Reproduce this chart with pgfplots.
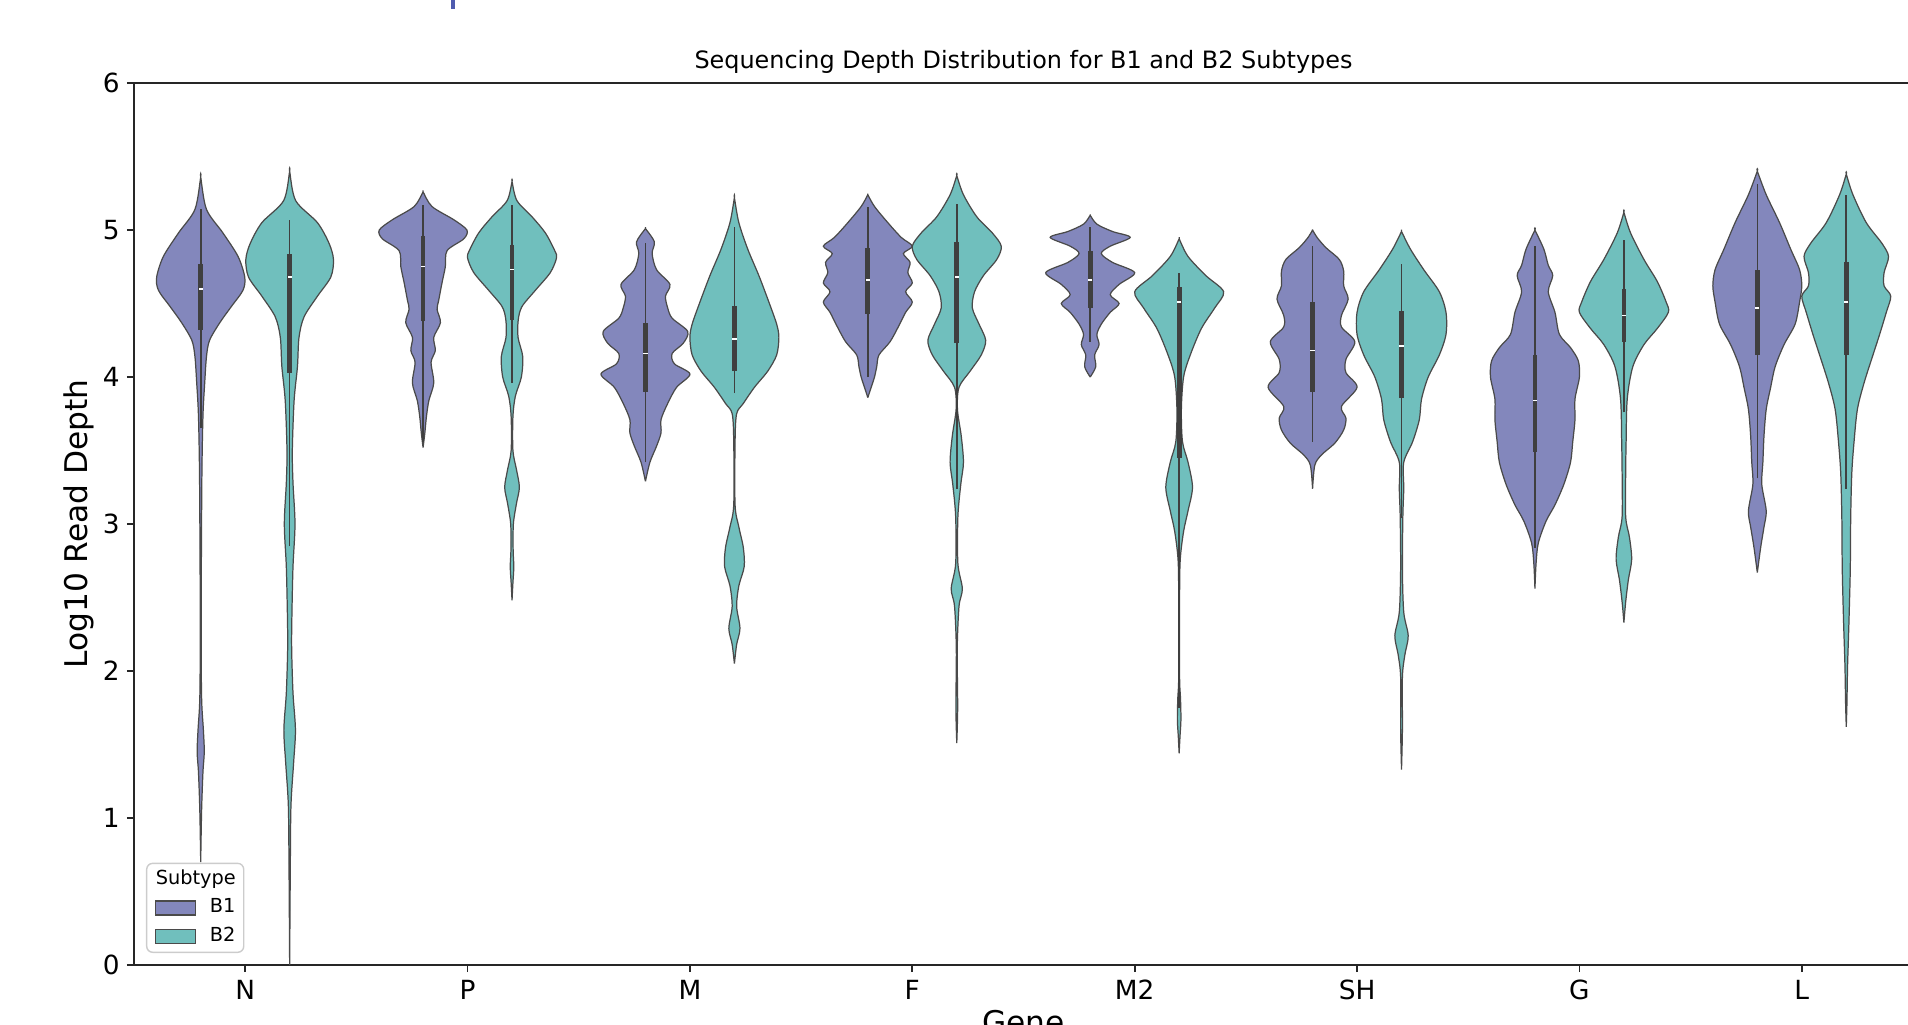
\documentclass[border=0pt]{standalone}
\usepackage{fontspec}
\setmainfont{DejaVu Sans}
\usepackage{pgfplots}
\usepackage{pgfplotstable}
\pgfplotsset{compat=1.18}

\definecolor{bone}{HTML}{8387BC}
\definecolor{btwo}{HTML}{70BFBD}
\definecolor{edge}{HTML}{4A4A4A}
\definecolor{boxc}{HTML}{3F3F3F}

% violin profiles: y and half width (in category units), bottom to top
\pgfplotstableread{
y w
0.70 0
1.05 0.004
1.31 0.010
1.45 0.016
1.60 0.012
1.82 0.004
2.33 0.002
3.28 0.005
3.73 0.010
3.96 0.018
4.14 0.026
4.25 0.040
4.37 0.086
4.48 0.138
4.59 0.190
4.68 0.198
4.82 0.168
4.98 0.100
5.14 0.026
5.36 0
}\vNa
\pgfplotstableread{
y w
0.00 0
0.69 0.003
1.09 0.006
1.38 0.018
1.60 0.026
1.85 0.015
2.15 0.009
2.37 0.010
2.71 0.015
3.00 0.024
3.28 0.015
3.50 0.012
3.84 0.020
4.07 0.035
4.27 0.042
4.41 0.065
4.55 0.125
4.68 0.185
4.80 0.197
4.91 0.177
5.05 0.125
5.20 0.027
5.40 0
}\vNb
\pgfplotstableread{
y w
3.52 0
3.62 0.008
3.73 0.015
3.84 0.026
3.96 0.048
4.10 0.036
4.18 0.055
4.27 0.048
4.37 0.078
4.46 0.063
4.52 0.070
4.64 0.085
4.75 0.100
4.86 0.108
4.94 0.183
5.00 0.197
5.07 0.138
5.16 0.040
5.26 0
}\vPa
\pgfplotstableread{
y w
2.48 0
2.60 0.004
2.71 0.008
2.82 0.005
3.00 0.006
3.14 0.020
3.25 0.033
3.37 0.020
3.50 0.004
3.73 0.004
3.87 0.015
4.00 0.042
4.14 0.048
4.27 0.027
4.39 0.028
4.48 0.045
4.59 0.105
4.71 0.172
4.81 0.200
4.86 0.192
4.98 0.150
5.09 0.090
5.20 0.022
5.33 0
}\vPb
\pgfplotstableread{
y w
3.29 0
3.42 0.02
3.53 0.05
3.62 0.07
3.71 0.07
3.82 0.10
3.93 0.14
4.02 0.20
4.09 0.13
4.16 0.12
4.23 0.17
4.31 0.19
4.40 0.12
4.47 0.10
4.55 0.09
4.63 0.11
4.73 0.05
4.84 0.03
4.92 0.04
5.01 0
}\vMa
\pgfplotstableread{
y w
2.05 0
2.18 0.010
2.29 0.025
2.44 0.010
2.58 0.020
2.71 0.044
2.84 0.040
2.98 0.020
3.13 0.003
3.56 0.003
3.75 0.010
3.82 0.040
3.93 0.090
4.04 0.150
4.15 0.190
4.27 0.200
4.36 0.190
4.51 0.155
4.69 0.110
4.87 0.060
5.05 0.020
5.22 0
}\vMb
\pgfplotstableread{
y w
3.86 0
3.93 0.015
4.00 0.030
4.07 0.040
4.15 0.050
4.24 0.100
4.35 0.140
4.44 0.170
4.51 0.200
4.58 0.170
4.64 0.200
4.71 0.180
4.78 0.190
4.84 0.160
4.89 0.200
4.95 0.150
5.05 0.090
5.16 0.030
5.24 0
}\vFa
\pgfplotstableread{
y w
1.51 0
1.75 0.004
2.15 0.002
2.44 0.010
2.56 0.025
2.73 0.005
3.05 0.005
3.27 0.018
3.42 0.030
3.60 0.020
3.78 0.003
3.93 0.010
4.04 0.060
4.15 0.110
4.25 0.130
4.36 0.100
4.47 0.070
4.58 0.080
4.69 0.120
4.80 0.180
4.89 0.200
4.98 0.160
5.09 0.090
5.24 0.030
5.37 0
}\vFb
\pgfplotstableread{
y w
4.00 0
4.07 0.025
4.15 0.020
4.22 0.040
4.29 0.030
4.36 0.050
4.44 0.090
4.50 0.130
4.56 0.090
4.63 0.130
4.71 0.200
4.78 0.100
4.84 0.050
4.89 0.090
4.95 0.180
4.99 0.100
5.04 0.030
5.10 0
}\vQa
\pgfplotstableread{
y w
1.44 0
1.56 0.004
1.67 0.008
1.82 0.006
1.96 0.002
2.51 0.002
2.76 0.005
2.95 0.020
3.09 0.040
3.25 0.060
3.42 0.040
3.56 0.015
3.78 0.010
4.00 0.020
4.15 0.050
4.33 0.100
4.47 0.160
4.58 0.200
4.69 0.120
4.82 0.040
4.94 0
}\vQb
\pgfplotstableread{
y w
3.24 0
3.40 0.010
3.47 0.040
3.55 0.100
3.64 0.140
3.72 0.150
3.80 0.130
3.93 0.200
4.03 0.150
4.12 0.150
4.24 0.190
4.34 0.130
4.42 0.130
4.53 0.160
4.62 0.140
4.72 0.140
4.80 0.120
4.88 0.060
4.95 0.020
5.00 0
}\vSa
\pgfplotstableread{
y w
1.33 0
1.60 0.004
1.96 0.004
2.11 0.015
2.24 0.030
2.40 0.010
2.69 0.004
3.05 0.006
3.24 0.010
3.42 0.010
3.56 0.050
3.71 0.080
3.85 0.090
4.00 0.120
4.15 0.170
4.29 0.200
4.44 0.200
4.58 0.170
4.73 0.100
4.87 0.040
4.99 0
}\vSb
\pgfplotstableread{
y w
2.56 0
2.73 0.005
2.87 0.015
3.02 0.050
3.13 0.090
3.27 0.130
3.42 0.160
3.56 0.170
3.71 0.180
3.85 0.180
4.00 0.200
4.11 0.195
4.20 0.160
4.29 0.110
4.44 0.090
4.58 0.060
4.69 0.080
4.76 0.060
4.87 0.040
5.00 0
}\vGa
\pgfplotstableread{
y w
2.33 0
2.47 0.008
2.62 0.020
2.76 0.035
2.91 0.025
3.05 0.008
3.35 0.008
3.56 0.010
3.85 0.015
4.07 0.040
4.22 0.090
4.33 0.150
4.44 0.200
4.51 0.190
4.65 0.150
4.80 0.090
4.98 0.030
5.12 0
}\vGb
\pgfplotstableread{
y w
2.67 0
2.84 0.015
2.98 0.030
3.09 0.040
3.27 0.020
3.42 0.025
3.60 0.030
3.78 0.040
3.93 0.060
4.07 0.080
4.22 0.120
4.36 0.170
4.51 0.190
4.62 0.200
4.73 0.190
4.87 0.150
5.05 0.100
5.24 0.040
5.40 0
}\vLa
\pgfplotstableread{
y w
1.62 0
1.78 0.003
2.04 0.006
2.33 0.012
2.69 0.018
3.05 0.020
3.35 0.025
3.56 0.035
3.78 0.050
3.96 0.080
4.15 0.120
4.29 0.150
4.44 0.180
4.55 0.200
4.62 0.170
4.71 0.170
4.82 0.190
4.91 0.160
5.05 0.090
5.24 0.030
5.38 0
}\vLb

% turn a profile into a closed outline: right side going up, left side coming down
\newcommand{\mkoutline}[1]{%
  \pgfplotstablesort[sort key=y, sort cmp=float >]{\vtmp}{#1}%
  \pgfplotstablecreatecol[create col/expr={-1*\thisrow{w}}]{d}{\vtmp}%
  \pgfplotstablecreatecol[create col/expr={\thisrow{w}}]{d}{#1}%
  \pgfplotstablevertcat{#1}{\vtmp}%
}
\mkoutline{\vNa}\mkoutline{\vNb}\mkoutline{\vPa}\mkoutline{\vPb}
\mkoutline{\vMa}\mkoutline{\vMb}\mkoutline{\vFa}\mkoutline{\vFb}
\mkoutline{\vQa}\mkoutline{\vQb}\mkoutline{\vSa}\mkoutline{\vSb}
\mkoutline{\vGa}\mkoutline{\vGb}\mkoutline{\vLa}\mkoutline{\vLb}

% table, centre, colour, whisker low, q1, median, q3, whisker high
\newcommand{\violin}[8]{%
  \addplot[fill=#3, draw=edge, line width=0.35pt, smooth, tension=0.5, forget plot]
    table[x expr=#2+\thisrow{d}, y=y] {#1};
  \addplot[boxc, line width=0.45pt, forget plot] coordinates {(#2,#4) (#2,#8)};
  \addplot[boxc, line width=1.35pt, forget plot] coordinates {(#2,#5) (#2,#7)};
  \addplot[only marks, mark=-, mark size=0.6pt, forget plot, mark options={draw=white, line width=0.4pt}]
    coordinates {(#2,#6)};
}

\begin{document}
\begin{tikzpicture}
\begin{scope}
\clip (-13.4mm,-5.9mm) rectangle (177.4mm,96.5mm);
\begin{axis}[
    at={(0,0)}, anchor=south west,
    scale only axis,
    width=177.9mm, height=88.2mm,
    xmin=-0.5, xmax=7.5,
    ymin=0, ymax=6,
    xtick={0,1,2,3,4,5,6,7},
    xticklabels={N,P,M,F,M2,SH,G,L},
    ytick={0,1,2,3,4,5,6},
    xtick pos=bottom, ytick pos=left,
    tick align=outside,
    major tick length=0.7mm,
    axis line style={line width=0.6pt, black!85},
    tick style={line width=0.5pt, black!85},
    /pgf/number format/assume math mode=true,
    tick label style={font=\fontsize{7.5}{9}\selectfont},
    yticklabel style={xshift=0.5mm},
    xticklabel style={yshift=0.45mm},
    every axis title shift=0pt,
    title={Sequencing Depth Distribution for B1 and B2 Subtypes},
    title style={font=\fontsize{6.8}{8}\selectfont, at={(axis description cs:0.5,1)}, anchor=base, yshift=1.5mm},
    xlabel={Gene},
    xlabel style={font=\fontsize{8.9}{10}\selectfont, at={(axis description cs:0.5,-0.078)}, anchor=base},
    ylabel={Log10 Read Depth},
    ylabel style={font=\fontsize{8.9}{10}\selectfont, at={(axis description cs:-0.031,0.5)}, anchor=center},
    legend style={at={(axis description cs:0,0)}, anchor=south west, xshift=1.2mm, yshift=1.2mm,
        draw=black!20, rounded corners=0.6mm, fill=white,
        font=\fontsize{5.5}{6.6}\selectfont,
        inner xsep=0.8mm, inner ysep=0.6mm, row sep=0.9mm, column sep=1.4mm,
        nodes={inner sep=0pt}},
    legend cell align=left,
]

\violin{\vNa}{-0.2}{bone}{3.65}{4.32}{4.60}{4.77}{5.14}
\violin{\vNb}{0.2}{btwo}{2.85}{4.03}{4.68}{4.84}{5.07}
\violin{\vPa}{0.8}{bone}{3.56}{4.38}{4.75}{4.96}{5.17}
\violin{\vPb}{1.2}{btwo}{3.96}{4.39}{4.73}{4.90}{5.17}
\violin{\vMa}{1.8}{bone}{3.42}{3.90}{4.16}{4.37}{4.91}
\violin{\vMb}{2.2}{btwo}{3.89}{4.04}{4.26}{4.48}{5.02}
\violin{\vFa}{2.8}{bone}{4.00}{4.43}{4.66}{4.88}{5.16}
\violin{\vFb}{3.2}{btwo}{3.24}{4.23}{4.68}{4.92}{5.18}
\violin{\vQa}{3.8}{bone}{4.24}{4.47}{4.66}{4.86}{5.02}
\violin{\vQb}{4.2}{btwo}{1.75}{3.45}{4.51}{4.61}{4.71}
\violin{\vSa}{4.8}{bone}{3.56}{3.90}{4.18}{4.51}{4.89}
\violin{\vSb}{5.2}{btwo}{3.04}{3.86}{4.21}{4.45}{4.77}
\violin{\vGa}{5.8}{bone}{2.84}{3.49}{3.84}{4.15}{4.89}
\violin{\vGb}{6.2}{btwo}{3.76}{4.24}{4.42}{4.60}{4.93}
\violin{\vLa}{6.8}{bone}{3.31}{4.15}{4.47}{4.73}{5.31}
\violin{\vLb}{7.2}{btwo}{3.24}{4.15}{4.51}{4.78}{5.24}

\addlegendimage{empty legend}
\addlegendentry{\hspace{-5.4mm}Subtype}
\addlegendimage{legend image code/.code={\draw[sharp corners, fill=bone, draw=edge, line width=0.3pt] (0mm,-0.7mm) rectangle (4mm,0.7mm);}}
\addlegendentry{B1}
\addlegendimage{legend image code/.code={\draw[sharp corners, fill=btwo, draw=edge, line width=0.3pt] (0mm,-0.7mm) rectangle (4mm,0.7mm);}}
\addlegendentry{B2}
\end{axis}
\end{scope}
\fill[color={rgb,255:red,80;green,92;blue,175}] (31.7mm,95.6mm) rectangle (32.05mm,96.5mm);
\pgfresetboundingbox
\path[use as bounding box] (-13.4mm,-5.9mm) rectangle (177.4mm,96.5mm);
\end{tikzpicture}
\end{document}
